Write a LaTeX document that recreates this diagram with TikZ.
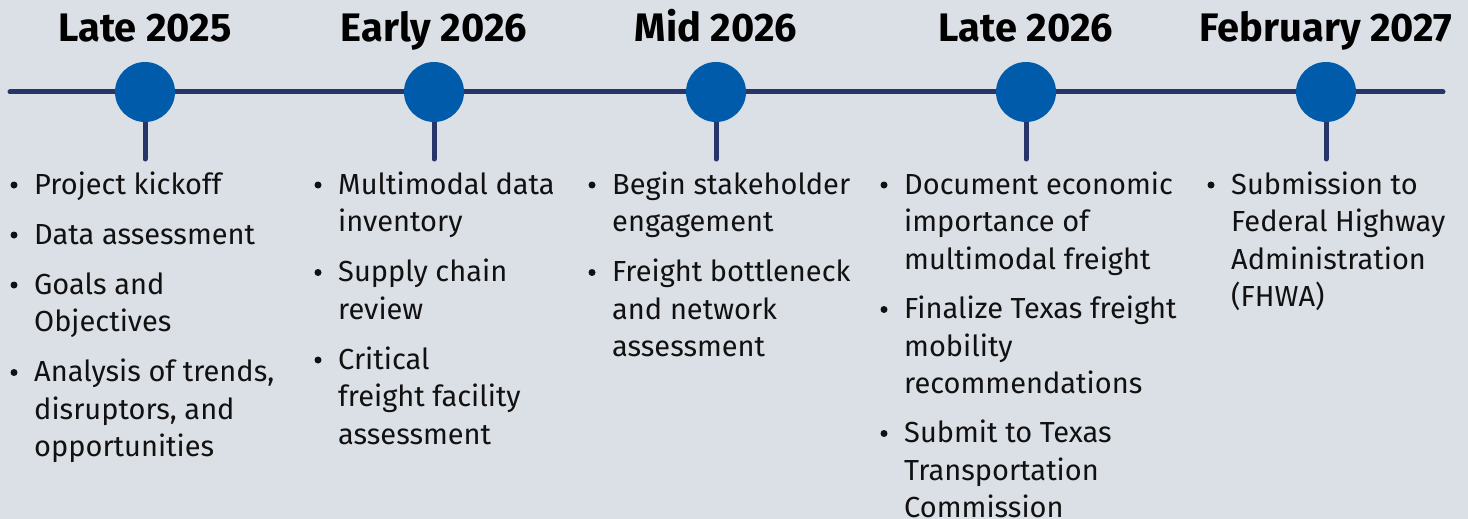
\documentclass[tikz,border=0pt]{standalone}
\usepackage{fontspec}
\setmainfont{Fira Sans}
\definecolor{bgc}{HTML}{DBDFE6}
\definecolor{navy}{HTML}{263669}
\definecolor{mblue}{HTML}{005BAA}
\definecolor{ink}{HTML}{111111}
\tikzset{
  tline/.style={draw=navy, line width=5pt, line cap=round},
  milestone/.style={circle, fill=mblue, minimum size=60pt, inner sep=0pt},
  phase/.style={anchor=base, font=\fontsize{39.8}{42}\selectfont\bfseries, text=black, inner sep=0pt},
  btext/.style={anchor=north west, align=left, inner sep=0pt, text=ink, font=\fontsize{29}{37.4}\selectfont},
  bdot/.style={circle, fill=ink, minimum size=7pt, inner sep=0pt},
}
\newcommand\bitem[4]{%
  \node[btext] (#1) at (#2,#3-26.18) {\strut #4};
  \node[bdot] (#1b) at (#2-20,#3-9) {};
}
\begin{document}
\begin{tikzpicture}[x=1pt,y=-1pt]
\fill[bgc] (0,0) rectangle (1468,519);
\useasboundingbox (0,0) rectangle (1468,519);
% timeline
\coordinate (tl0) at (10,92);
\coordinate (tl1) at (1443,92);
\draw[tline] (tl0) -- (tl1);
\foreach \i/\x in {1/145,2/434,3/716,4/1026,5/1326}{
  \coordinate (s\i) at (\x,159);
  \draw[tline] (\x,92) -- (s\i);
  \node[milestone] (m\i) at (\x,92) {};
}
% titles
\node[phase] (t1) at (145,42) {Late 2025};
\node[phase] (t2) at (434,42) {Early 2026};
\node[phase] (t3) at (716,42) {Mid 2026};
\node[phase] (t4) at (1026,42) {Late 2026};
\node[phase] (t5) at (1326,42) {February 2027};
% column 1
\bitem{a1}{34}{194}{Project kickoff}
\bitem{a2}{34}{244}{Data assessment}
\bitem{a3}{34}{294}{Goals and\\Objectives}
\bitem{a4}{34}{381.5}{Analysis of trends,\\disruptors, and\\opportunities}
% column 2
\bitem{b1}{338}{194}{Multimodal data\\inventory}
\bitem{b2}{338}{281.5}{Supply chain\\review}
\bitem{b3}{338}{369}{Critical\\freight facility\\assessment}
% column 3
\bitem{c1}{612}{194}{Begin stakeholder\\engagement}
\bitem{c2}{612}{281.5}{Freight bottleneck\\and network\\assessment}
% column 4
\bitem{d1}{904}{194}{Document economic\\importance of\\multimodal freight}
\bitem{d2}{904}{318.5}{Finalize Texas freight\\mobility\\recommendations}
\bitem{d3}{904}{442.5}{Submit to Texas\\Transportation\\Commission}
% column 5
\bitem{e1}{1231}{194}{Submission to\\Federal Highway\\Administration\\(FHWA)}
\end{tikzpicture}
\end{document}
